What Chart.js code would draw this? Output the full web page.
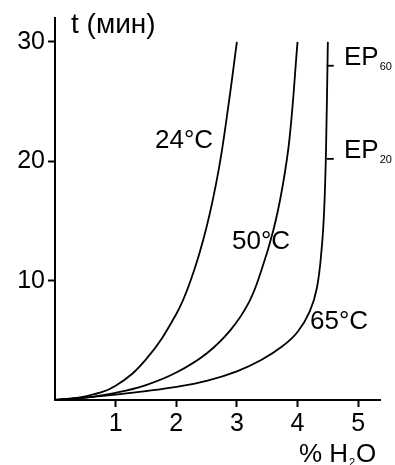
<!DOCTYPE html>
<html>
<head>
<meta charset="utf-8">
<script src="https://cdn.jsdelivr.net/npm/chart.js@4"></script>
<style>
  html, body { margin: 0; padding: 0; background: #fff; }
  #wrap { width: 395px; height: 465px; }
</style>
</head>
<body>
<div id="wrap"><canvas id="myChart"></canvas></div>
<script>
// curves: x = % H2O, y = t (min)
const curve24 = [[0, 0], [0.5, 0.3], [1.0, 1.2], [1.5, 3.4], [2.0, 7.2], [2.25, 10.2], [2.5, 14.5], [2.7, 19.3], [2.85, 24.3], [3.0, 30]];
const curve50 = [[0, 0], [0.5, 0.2], [1.0, 0.6], [1.5, 1.25], [2.0, 2.3], [2.5, 3.9], [2.9, 5.9], [3.2, 8.2], [3.4, 10.8], [3.6, 14.2], [3.75, 17.8], [3.87, 22], [4.0, 30]];
const curve65 = [[0, 0], [0.5, 0.2], [1.0, 0.45], [1.5, 0.75], [2.0, 1.1], [2.5, 1.6], [3.0, 2.4], [3.4, 3.35], [3.75, 4.5], [4.0, 5.7], [4.2, 7.4], [4.32, 9.4], [4.4, 12.8], [4.44, 16], [4.47, 21], [4.5, 30]];
const epMarks = [[4.54, 28], [4.54, 20.2]];

const xTicks = [1, 2, 3, 4, 5];
const yTicks = [10, 20, 30];

const toPts = (arr) => arr.map((p) => ({ x: p[0], y: p[1] }));

const FONT = "'Liberation Sans', Arial, sans-serif";

// text labels on the plot
const labelsPlugin = {
  id: "labels",
  afterDraw(chart) {
    const ctx = chart.ctx;
    ctx.save();
    ctx.fillStyle = "#000";
    ctx.textBaseline = "alphabetic";
    ctx.textAlign = "left";

    ctx.font = "28px " + FONT;
    ctx.fillText("t (мин)", 71, 33);
    ctx.font = "26px " + FONT;
    ctx.fillText("24°C", 155, 148);
    ctx.fillText("50°C", 232, 249);
    ctx.fillText("65°C", 310, 329);

    // EP marks
    const sub = (main, s, x, y) => {
      ctx.font = "26px " + FONT;
      ctx.fillText(main, x, y);
      const w = ctx.measureText(main).width;
      ctx.font = "11px " + FONT;
      ctx.fillText(s, x + w + 1, y + 5);
    };
    sub("EP", "60", 344, 65);
    sub("EP", "20", 344, 158);

    // axis title
    const x0 = 299;
    ctx.font = "26px " + FONT;
    ctx.fillText("% H", x0, 462);
    const w = ctx.measureText("% H").width;
    ctx.font = "11px " + FONT;
    ctx.fillText("2", x0 + w + 1, 466);
    ctx.font = "26px " + FONT;
    ctx.fillText("O", x0 + w + 8, 462);
    ctx.restore();
  },
};

const line = (data) => ({
  type: "line",
  data: toPts(data),
  borderColor: "#000",
  borderWidth: 1.8,
  pointRadius: 0,
  fill: false,
  tension: 0.4,
});

new Chart(document.getElementById("myChart"), {
  type: "scatter",
  data: {
    datasets: [
      line(curve24),
      line(curve50),
      line(curve65),
      {
        type: "scatter",
        data: toPts(epMarks),
        pointStyle: "line",
        pointRadius: 3.5,
        borderColor: "#000",
        borderWidth: 1.8,
      },
    ],
  },
  options: {
    responsive: true,
    maintainAspectRatio: false,
    animation: false,
    events: [],
    layout: { padding: { top: 16, right: 15, left: 0, bottom: 0 } },
    plugins: {
      legend: { display: false },
      tooltip: { enabled: false },
    },
    scales: {
      x: {
        type: "linear",
        min: 0,
        max: 5.36,
        afterFit: (s) => { s.height = 65; },
        afterBuildTicks: (s) => { s.ticks = xTicks.map((v) => ({ value: v })); },
        border: { color: "#000", width: 2 },
        grid: { drawOnChartArea: false, tickLength: 7, tickColor: "#000", tickWidth: 2 },
        ticks: { color: "#000", font: { family: FONT, size: 25 }, padding: 2, maxRotation: 0 },
      },
      y: {
        type: "linear",
        min: 0,
        max: 32,
        afterFit: (s) => { s.width = 55; },
        afterBuildTicks: (s) => { s.ticks = yTicks.map((v) => ({ value: v })); },
        border: { color: "#000", width: 2 },
        grid: { drawOnChartArea: false, tickLength: 7, tickColor: "#000", tickWidth: 2 },
        ticks: { color: "#000", font: { family: FONT, size: 25 }, padding: 3 },
      },
    },
  },
  plugins: [labelsPlugin],
});
</script>
</body>
</html>
